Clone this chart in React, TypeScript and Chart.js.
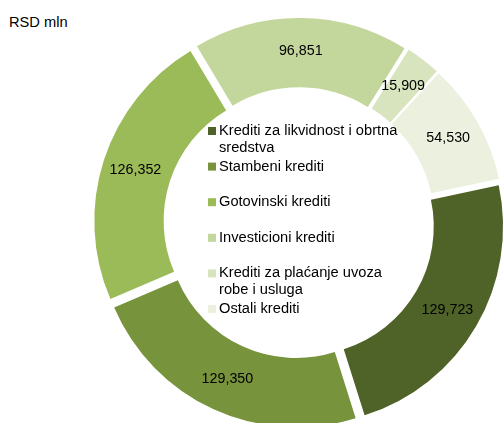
import React, { useEffect, useRef } from 'react';
import { Chart, registerables } from 'chart.js';

Chart.register(...registerables);

const categories = [
  'Krediti za likvidnost i obrtna sredstva',
  'Stambeni krediti',
  'Gotovinski krediti',
  'Investicioni krediti',
  'Krediti za plaćanje uvoza robe i usluga',
  'Ostali krediti',
];
const values = [129723, 129350, 126352, 96851, 15909, 54530];
const colors = ['#4f6228', '#77933c', '#9bbb59', '#c3d69b', '#d7e4bd', '#ebf1de'];
const unitLabel = 'RSD mln';

const FONT = "'Liberation Sans', Arial, sans-serif";
const SIZE = 440;
const CX = 299;
const CY = 223;
const EXPLODE = 7;

function wrap(ctx: CanvasRenderingContext2D, text: string, maxW: number): string[] {
  const words = text.split(' ');
  const lines: string[] = [];
  let cur = '';
  for (const w of words) {
    const t = cur ? cur + ' ' + w : w;
    if (ctx.measureText(t).width > maxW && cur) {
      lines.push(cur);
      cur = w;
    } else cur = t;
  }
  if (cur) lines.push(cur);
  return lines;
}

const labelsPlugin = {
  id: 'valueLabels',
  afterDatasetsDraw(chart: any) {
    const ctx = chart.ctx as CanvasRenderingContext2D;
    const meta = chart.getDatasetMeta(0);
    ctx.save();
    ctx.font = `14.3px ${FONT}`;
    ctx.fillStyle = '#000';
    ctx.textAlign = 'center';
    ctx.textBaseline = 'middle';
    meta.data.forEach((el: any, i: number) => {
      const p = el.getProps(['x', 'y', 'startAngle', 'endAngle', 'innerRadius', 'outerRadius']);
      const mid = (p.startAngle + p.endAngle) / 2;
      const rr = (p.innerRadius + p.outerRadius) / 2 + EXPLODE + 1.5;
      ctx.fillText(values[i].toLocaleString('en-US'), p.x + Math.cos(mid) * rr, p.y + Math.sin(mid) * rr);
    });
    ctx.restore();
  },
};

const legendPlugin = {
  id: 'centerLegend',
  afterDraw(chart: any) {
    const ctx = chart.ctx as CanvasRenderingContext2D;
    const meta = chart.getDatasetMeta(0);
    const el = meta.data[0];
    const cx = el.x;
    const cy = el.y;
    ctx.save();
    ctx.font = `14.67px ${FONT}`;
    ctx.textAlign = 'left';
    ctx.textBaseline = 'middle';
    categories.forEach((c, i) => {
      const y0 = cy - 92 + i * 35.6;
      ctx.fillStyle = colors[i];
      ctx.fillRect(cx - 91, y0 - 4, 8, 8);
      ctx.fillStyle = '#000';
      const lines = wrap(ctx, c, 183);
      lines.forEach((ln, j) => ctx.fillText(ln, cx - 80, y0 + j * 17));
    });
    ctx.restore();
  },
};

const total = values.reduce((a, b) => a + b, 0);

export default function App() {
  const ref = useRef<HTMLCanvasElement | null>(null);
  useEffect(() => {
    if (!ref.current) return;
    const chart = new Chart(ref.current, {
      type: 'doughnut',
      data: {
        labels: categories,
        datasets: [
          {
            data: values,
            backgroundColor: colors,
            borderWidth: 0,
            offset: (c: any) => {
              const circ = (values[c.dataIndex] / total) * Math.PI * 2;
              return (EXPLODE * 4) / (2 - Math.sin(Math.min(Math.PI, circ)));
            },
            hoverOffset: 0,
          },
        ],
      },
      options: {
        responsive: false,
        animation: false,
        rotation: 78,
        radius: 198,
        cutout: '65%',
        layout: { padding: 0 },
        plugins: {
          legend: { display: false },
          tooltip: { enabled: false },
          title: { display: false },
        },
        events: [],
      },
      plugins: [labelsPlugin, legendPlugin],
    });
    return () => chart.destroy();
  }, []);
  return (
    <div style={{ position: 'fixed', left: 0, top: 0, width: 504, height: 423, overflow: 'hidden', background: '#fff' }}>
      <div
        style={{
          position: 'absolute',
          left: 9,
          top: 13.5,
          font: `14.67px ${FONT}`,
          lineHeight: '17px',
          color: '#000',
          whiteSpace: 'nowrap',
        }}
      >
        {unitLabel}
      </div>
      <canvas
        ref={ref}
        width={SIZE}
        height={SIZE}
        style={{ position: 'absolute', left: CX - SIZE / 2, top: CY - SIZE / 2, width: SIZE, height: SIZE }}
      />
    </div>
  );
}
